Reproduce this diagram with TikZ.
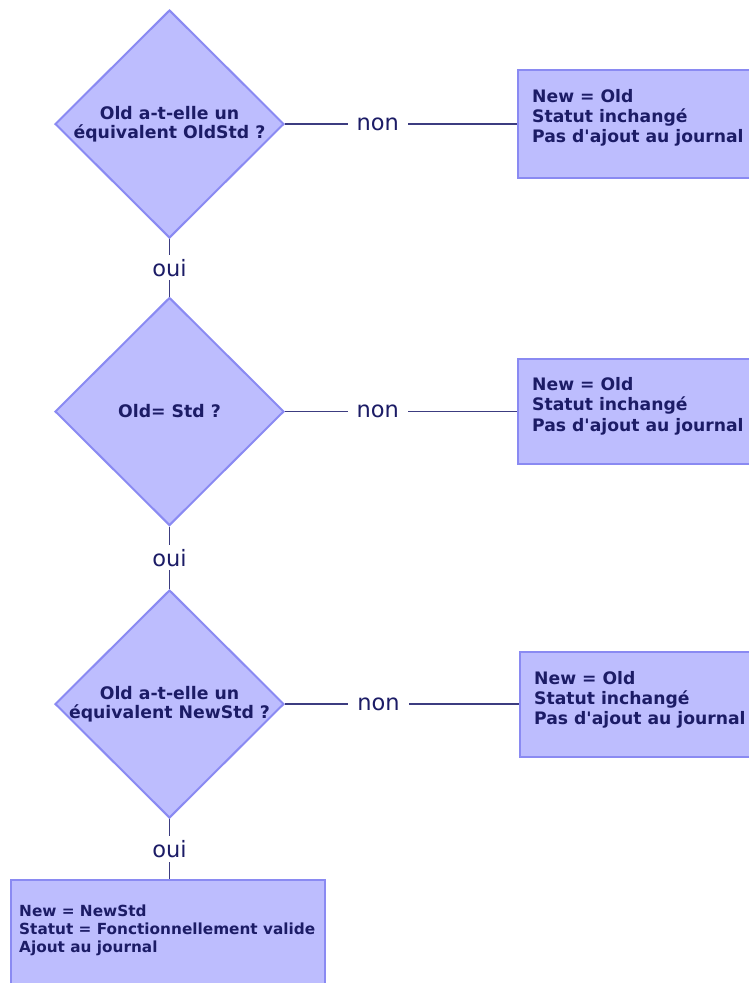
\documentclass[tikz,border=0pt]{standalone}
\usepackage{fontspec}
\setmainfont{DejaVu Sans}[Ligatures=TeXOff]
\usetikzlibrary{shapes.geometric}
\definecolor{shapefill}{HTML}{BDBDFE}
\definecolor{shapedraw}{HTML}{8A8AF2}
\definecolor{txt}{HTML}{1C1C66}
\definecolor{conn}{HTML}{3C3C80}
\begin{document}
\begin{tikzpicture}[x=1pt,y=-1pt,
  decision/.style={diamond,draw=shapedraw,fill=shapefill,line width=2pt,inner sep=0pt,
    minimum width=229pt,minimum height=228pt,aspect=1},
  dtext/.style={inner sep=0pt,text=txt,align=center,
    font=\fontsize{17.3}{19.5}\selectfont\bfseries},
  outbox/.style={rectangle,draw=shapedraw,fill=shapefill,line width=2pt,inner sep=0pt},
  boxtext/.style={anchor=north west,inner sep=0pt,align=left,text=txt,
    font=\fontsize{17.2}{20.2}\selectfont\bfseries},
  smalltext/.style={anchor=north west,inner sep=0pt,align=left,text=txt,
    font=\fontsize{15.3}{17.6}\selectfont\bfseries},
  lbl/.style={fill=white,inner xsep=9pt,inner ysep=4pt,text=txt,font=\fontsize{22.5}{24}\selectfont},
  link/.style={draw=conn,line width=1.3pt}]
\useasboundingbox (0,0) rectangle (748,983);
% decisions
\node[decision,label={[dtext]center:Old a-t-elle un\\équivalent OldStd ?}] (d1) at (169.5,124) {};
\node[decision,label={[dtext]center:Old= Std ?}] (d2) at (169.5,411.5) {};
\node[decision,label={[dtext]center:Old a-t-elle un\\équivalent NewStd ?}] (d3) at (169.5,704) {};
% right boxes
\node[outbox,minimum width=242pt,minimum height=108pt] (b1) at (639,124) {};
\node[outbox,minimum width=242pt,minimum height=105pt] (b2) at (639,411) {};
\node[outbox,minimum width=240pt,minimum height=105pt] (b3) at (640,704.5) {};
\node[outbox,minimum width=314pt,minimum height=120pt] (b4) at (168,940) {};
% texts in boxes
\node[boxtext] (t1) at ([xshift=15pt,yshift=-20pt]b1.north west) {New = Old\\Statut inchangé\\Pas d'ajout au journal};
\node[boxtext] (t2) at ([xshift=15pt,yshift=-20pt]b2.north west) {New = Old\\Statut inchangé\\Pas d'ajout au journal};
\node[boxtext] (t3) at ([xshift=15pt,yshift=-20pt]b3.north west) {New = Old\\Statut inchangé\\Pas d'ajout au journal};
\node[smalltext] (t4) at ([xshift=9pt,yshift=-26pt]b4.north west) {New = NewStd\\Statut = Fonctionnellement valide\\Ajout au journal};
% connectors
\draw[link] (d1.east) -- node[lbl,pos=0.4] {non} (d1.east -| b1.west);
\draw[link] (d2.east) -- node[lbl,pos=0.4] {non} (d2.east -| b2.west);
\draw[link] (d3.east) -- node[lbl,pos=0.4] {non} (d3.east -| b3.west);
\draw[link] (d1.south) -- node[lbl] {oui} (d2.north);
\draw[link] (d2.south) -- node[lbl] {oui} (d3.north);
\draw[link] (d3.south) -- node[lbl] {oui} (d3.south |- b4.north);
\end{tikzpicture}
\end{document}
